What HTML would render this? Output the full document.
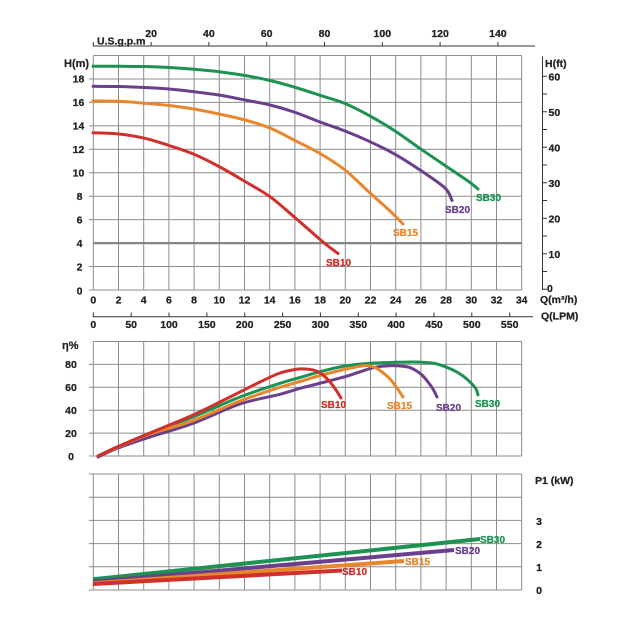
<!DOCTYPE html>
<html><head><meta charset="utf-8"><style>
html,body{margin:0;padding:0;background:#fff;}
svg{display:block;}
text{font-family:"Liberation Sans",Arial,sans-serif;font-weight:bold;fill:#222;stroke:#222;stroke-width:0.25;}
</style></head><body>
<svg id="s" width="632" height="632" viewBox="0 0 632 632" xmlns="http://www.w3.org/2000/svg">
<rect width="632" height="632" fill="#fff"/>
<g stroke="#8c8c8c" stroke-width="1" fill="none">
<path d="M93.3 55.5V290M118.5 55.5V290M143.7 55.5V290M168.9 55.5V290M194.1 55.5V290M219.3 55.5V290M244.5 55.5V290M269.7 55.5V290M294.9 55.5V290M320.1 55.5V290M345.3 55.5V290M370.5 55.5V290M395.7 55.5V290M420.9 55.5V290M446.1 55.5V290M471.3 55.5V290M496.5 55.5V290M521.7 55.5V290"/>
<path d="M89 290H521.7M89 266.55H521.7M89 219.65H521.7M89 196.2H521.7M89 172.75H521.7M89 149.3H521.7M89 125.85H521.7M89 102.4H521.7M89 78.95H521.7M93.3 55.5H521.7"/>
<path d="M93.3 341.5V456M118.5 341.5V456M143.7 341.5V456M168.9 341.5V456M194.1 341.5V456M219.3 341.5V456M244.5 341.5V456M269.7 341.5V456M294.9 341.5V456M320.1 341.5V456M345.3 341.5V456M370.5 341.5V456M395.7 341.5V456M420.9 341.5V456M446.1 341.5V456M471.3 341.5V456M496.5 341.5V456M521.7 341.5V456"/>
<path d="M89 456H521.7M89 433.1H521.7M89 410.2H521.7M89 387.3H521.7M89 364.4H521.7M93.3 341.5H521.7"/>
<path d="M93.3 474V590M118.5 474V590M143.7 474V590M168.9 474V590M194.1 474V590M219.3 474V590M244.5 474V590M269.7 474V590M294.9 474V590M320.1 474V590M345.3 474V590M370.5 474V590M395.7 474V590M420.9 474V590M446.1 474V590M471.3 474V590M496.5 474V590M521.7 474V590"/>
<path d="M89 590H521.7M89 566.8H521.7M89 543.6H521.7M89 520.4H521.7M89 497.2H521.7M89 474H521.7"/>
</g>
<path d="M93.3 243.1H521.7" stroke="#858585" stroke-width="2.2"/>

<g stroke="#333" stroke-width="1" fill="none">
<path d="M93 46H535"/>
<path d="M93.3 42V46M151.1 42V46M208.9 42V46M266.7 42V46M324.5 42V46M382.3 42V46M440.1 42V46M497.9 42V46"/>
<path d="M93 316.7H533"/>
<path d="M93.3 312.5V316.7M131.2 312.5V316.7M169 312.5V316.7M206.9 312.5V316.7M244.7 312.5V316.7M282.6 312.5V316.7M320.4 312.5V316.7M358.3 312.5V316.7M396.1 312.5V316.7M434 312.5V316.7M471.8 312.5V316.7M509.7 312.5V316.7"/>
<path d="M542.5 56.5V290"/>
<path d="M542.5 289.3H547M542.5 271.55H547M542.5 253.8H547M542.5 236.05H547M542.5 218.3H547M542.5 200.55H547M542.5 182.8H547M542.5 165.05H547M542.5 147.3H547M542.5 129.55H547M542.5 111.8H547M542.5 94.05H547M542.5 76.3H547"/>
</g>

<g fill="none" stroke-width="3" stroke-linejoin="round" stroke-linecap="round">
<polyline class="sm" stroke="#1e9253" points="93,66.3 120,66.3 145,66.5 169,67.5 194,69.3 219,71.7 245,75.5 270,80.5 294,87 320,95.3 345,103.5 370,116 395,131 420,148.5 445,165.5 468,181 478,189"/>
<polyline class="sm" stroke="#6a3f8c" points="93,86.3 119,86.5 145,87.5 169,89 194,91.7 219,95 245,100 270,105 294,112 320,122 345,131 370,141.7 395,154.3 420,170 445,188 452,200.5"/>
<polyline class="sm" stroke="#e8862c" points="93,101 119,101.3 145,103.3 169,105.5 194,109 219,114 245,120 270,128 294,140 320,153.5 345,170 370,193 390,211 403,224"/>
<polyline class="sm" stroke="#d0302c" points="93,132.7 119,134 145,138.3 169,145.5 194,154.3 219,166.5 245,181.5 270,196.7 296,218.5 323,242 338,253.5"/>
</g>
<g font-size="10">
<text x="476" y="201" style="fill:#1e9253;stroke:#1e9253">SB30</text>
<text x="445" y="213" style="fill:#6a3f8c;stroke:#6a3f8c">SB20</text>
<text x="393" y="236" style="fill:#e8862c;stroke:#e8862c">SB15</text>
<text x="326" y="266" style="fill:#d0302c;stroke:#d0302c">SB10</text>
</g>

<g fill="none" stroke-width="3" stroke-linejoin="round" stroke-linecap="round">
<polyline class="sm" stroke="#1e9253" points="100,456 118,447 150,433 193,417 240,397 280,383.3 300,377.5 320,371.7 345,366 370,363.3 396,362.3 413,362 425,362.5 437,364 453,370 463,376 470,382 476,389 478,395"/>
<polyline class="sm" stroke="#6a3f8c" points="98,457 118,448 150,437 193,423.3 240,404 280,394.3 300,388.3 313,385 345,376.7 371,368.3 385,366 397,365.7 408,367 415,370 422,375 428,382 433,389 437,397"/>
<polyline class="sm" stroke="#e8862c" points="98,456 118,447 150,434 193,420.7 240,401 280,387.3 300,381.5 320,375.5 345,369.3 360,366.3 367,365.5 375,367.5 382,372 390,379 397,388 403,397"/>
<polyline class="sm" stroke="#d0302c" points="98,456 118,446.5 150,433 193,415 230,397 260,382 280,373 295,369.5 305,369 315,370.5 323,375 330,382 336,390 341,398"/>
</g>
<g font-size="10">
<text x="475" y="407" style="fill:#1e9253;stroke:#1e9253">SB30</text>
<text x="436" y="411" style="fill:#6a3f8c;stroke:#6a3f8c">SB20</text>
<text x="387" y="409" style="fill:#e8862c;stroke:#e8862c">SB15</text>
<text x="321" y="408" style="fill:#d0302c;stroke:#d0302c">SB10</text>
</g>

<g fill="none" stroke-width="4" stroke-linecap="butt">
<path stroke="#1e9253" d="M93 579.3L480 539"/>
<path stroke="#6a3f8c" d="M93 581.7L454 550"/>
<path stroke="#e8862c" d="M93 583.3L404 561"/>
<path stroke="#d0302c" d="M93 584L342 570.5"/>
</g>
<g font-size="10">
<text x="480" y="543" style="fill:#1e9253;stroke:#1e9253">SB30</text>
<text x="455" y="554" style="fill:#6a3f8c;stroke:#6a3f8c">SB20</text>
<text x="405" y="565" style="fill:#e8862c;stroke:#e8862c">SB15</text>
<text x="342" y="575" style="fill:#d0302c;stroke:#d0302c">SB10</text>
</g>

<g font-size="10.5" text-anchor="middle">
<text x="151.1" y="37">20</text><text x="208.9" y="37">40</text><text x="266.7" y="37">60</text><text x="324.5" y="37">80</text><text x="382.3" y="37">100</text><text x="440.1" y="37">120</text><text x="497.9" y="37">140</text>
</g>
<text x="97" y="44.5" font-size="10.5">U.S.g.p.m</text>
<text x="64" y="67" font-size="11">H(m)</text>
<g font-size="10.5" text-anchor="middle">
<text x="78.5" y="82.5">18</text><text x="78.5" y="106">16</text><text x="78.5" y="129.5">14</text><text x="78.5" y="153">12</text><text x="78.5" y="176.5">10</text><text x="79.5" y="200">8</text><text x="79.5" y="223.5">6</text><text x="79.5" y="247">4</text><text x="79.5" y="270.5">2</text><text x="79.5" y="294.5">0</text>
</g>
<g font-size="10.5" text-anchor="middle">
<text x="93.3" y="303.5">0</text><text x="118.5" y="303.5">2</text><text x="143.7" y="303.5">4</text><text x="168.9" y="303.5">6</text><text x="194.1" y="303.5">8</text><text x="219.3" y="303.5">10</text><text x="244.5" y="303.5">12</text><text x="269.7" y="303.5">14</text><text x="294.9" y="303.5">16</text><text x="320.1" y="303.5">18</text><text x="345.3" y="303.5">20</text><text x="370.5" y="303.5">22</text><text x="395.7" y="303.5">24</text><text x="420.9" y="303.5">26</text><text x="446.1" y="303.5">28</text><text x="471.3" y="303.5">30</text><text x="496.5" y="303.5">32</text><text x="521.7" y="303.5">34</text>
</g>
<g font-size="10.5" text-anchor="middle">
<text x="93.3" y="328">0</text><text x="131.2" y="328">50</text><text x="169" y="328">100</text><text x="206.9" y="328">150</text><text x="244.7" y="328">200</text><text x="282.6" y="328">250</text><text x="320.4" y="328">300</text><text x="358.3" y="328">350</text><text x="396.1" y="328">400</text><text x="434" y="328">450</text><text x="471.8" y="328">500</text><text x="509.7" y="328">550</text>
</g>
<text x="540" y="303" font-size="10.5">Q(m³/h)</text>
<text x="541" y="319.5" font-size="10.5">Q(LPM)</text>
<text x="545" y="67" font-size="10.5">H(ft)</text>
<g font-size="10.5">
<text x="548.5" y="80.3">60</text><text x="548.5" y="115.8">50</text><text x="548.5" y="151.3">40</text><text x="548.5" y="186.8">30</text><text x="548.5" y="222.3">20</text><text x="548.5" y="257.8">10</text><text x="547" y="292">0</text>
</g>
<text x="62" y="349" font-size="11">η%</text>
<g font-size="10.5" text-anchor="middle">
<text x="71" y="368">80</text><text x="71" y="391">60</text><text x="71" y="414">40</text><text x="71" y="437">20</text><text x="71" y="460">0</text>
</g>
<text x="535" y="484" font-size="10.5">P1 (kW)</text>
<g font-size="10.5" text-anchor="middle">
<text x="539" y="525">3</text><text x="539" y="548">2</text><text x="539" y="571">1</text><text x="539" y="594">0</text>
</g>
</svg>
<script>
(function(){
  try{
    var ns="http://www.w3.org/2000/svg";
    var pls=document.querySelectorAll("polyline.sm");
    for(var i=0;i<pls.length;i++){
      var pl=pls[i];
      var raw=pl.getAttribute("points").trim().split(/\s+/);
      var p=raw.map(function(s){var a=s.split(",");return [parseFloat(a[0]),parseFloat(a[1])];});
      var d="M"+p[0][0]+" "+p[0][1];
      for(var k=0;k<p.length-1;k++){
        var p0=p[k-1]||p[k],p1=p[k],p2=p[k+1],p3=p[k+2]||p[k+1];
        var c1x=p1[0]+(p2[0]-p0[0])/6,c1y=p1[1]+(p2[1]-p0[1])/6;
        var c2x=p2[0]-(p3[0]-p1[0])/6,c2y=p2[1]-(p3[1]-p1[1])/6;
        d+="C"+c1x.toFixed(2)+" "+c1y.toFixed(2)+" "+c2x.toFixed(2)+" "+c2y.toFixed(2)+" "+p2[0]+" "+p2[1];
      }
      var path=document.createElementNS(ns,"path");
      path.setAttribute("d",d);
      path.setAttribute("stroke",pl.getAttribute("stroke"));
      pl.parentNode.replaceChild(path,pl);
    }
  }catch(e){}
})();
</script>
</body></html>
